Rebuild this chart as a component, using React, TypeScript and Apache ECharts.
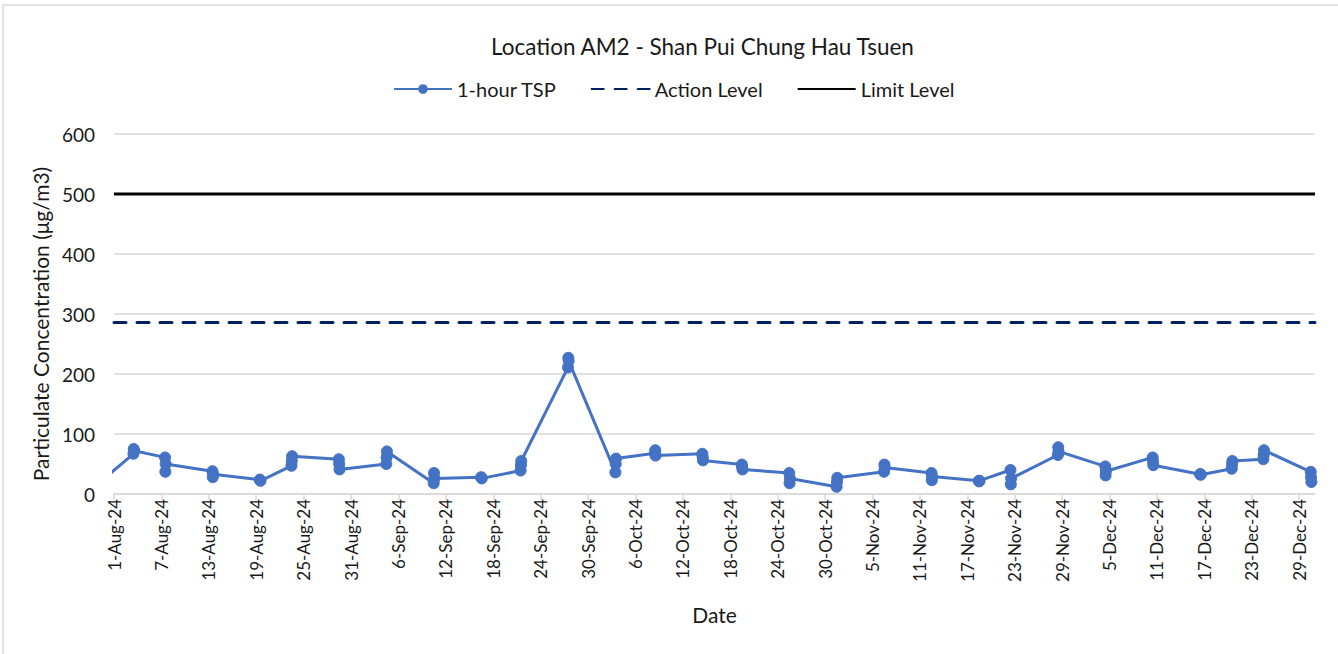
import React, { useEffect, useRef } from "react";
import * as echarts from "echarts";

const BASE_DATE = "2024-08-01";
const AXIS_MAX_DAY = 152; // 31-Dec-24
const TICK_DAYS = Array.from({ length: 26 }, (_, i) => i * 6);
const MONTHS = ["Jan", "Feb", "Mar", "Apr", "May", "Jun", "Jul", "Aug", "Sep", "Oct", "Nov", "Dec"];

const sampleDates = [
  "2024-07-29", "2024-08-03", "2024-08-07", "2024-08-13", "2024-08-19", "2024-08-23",
  "2024-08-29", "2024-09-04", "2024-09-10", "2024-09-16", "2024-09-21", "2024-09-27",
  "2024-10-03", "2024-10-08", "2024-10-14", "2024-10-19", "2024-10-25", "2024-10-31",
  "2024-11-06", "2024-11-12", "2024-11-18", "2024-11-22", "2024-11-28", "2024-12-04",
  "2024-12-10", "2024-12-16", "2024-12-20", "2024-12-24", "2024-12-30",
];
const sampleHours = ["11:00", "12:00", "13:00"];
const tspValues = [
  [20, 15, 12], [67, 75, 72], [61, 37, 50], [38, 28, 33], [24, 23, 22], [47, 55, 63],
  [58, 50, 41], [50, 61, 71], [18, 35, 26], [28, 27, 26], [39, 48, 55], [211, 227, 222],
  [36, 50, 59], [68, 73, 64], [67, 62, 56], [49, 45, 41], [35, 18, 26], [12, 20, 27],
  [37, 49, 44], [35, 23, 29], [22, 21, 22], [40, 16, 26], [65, 78, 71], [46, 31, 38],
  [61, 54, 48], [33, 33, 32], [42, 49, 55], [58, 65, 73], [37, 28, 20],
];
const actionLevel = 286;
const limitLevel = 500;

const DAY_MS = 86400000;
const baseMs = Date.parse(BASE_DATE + "T00:00:00Z");
const toDay = (d: string, h: string) => (Date.parse(d + "T" + h + ":00Z") - baseMs) / DAY_MS;
const fmtDay = (v: number) => {
  const d = new Date(baseMs + Math.round(v) * DAY_MS);
  return `${d.getUTCDate()}-${MONTHS[d.getUTCMonth()]}-${String(d.getUTCFullYear()).slice(2)}`;
};

const FONT = "Lato, 'Open Sans', sans-serif";
const TEXT = "#1a1a1a";

export default function App() {
  const ref = useRef<HTMLDivElement>(null);
  useEffect(() => {
    if (!ref.current) return;
    const chart = echarts.init(ref.current, undefined, { renderer: "svg" });
    const tspData: number[][] = [];
    sampleDates.forEach((d, i) => {
      tspValues[i].forEach((v, j) => tspData.push([toDay(d, sampleHours[j]), v]));
    });
    const hiddenSymbol = { color: "rgba(0,0,0,0)", borderWidth: 0, opacity: 0 };
    chart.setOption({
      animation: false,
      backgroundColor: "#fff",
      textStyle: { fontFamily: FONT },
      title: {
        text: "Location AM2 - Shan Pui Chung Hau Tsuen",
        left: 486,
        top: 30,
        textStyle: { fontFamily: FONT, fontSize: 22.5, fontWeight: "normal", color: TEXT },
      },
      legend: {
        top: 74,
        left: 388,
        itemWidth: 58,
        itemHeight: 12,
        itemGap: 34,
        textStyle: { fontFamily: FONT, fontSize: 20, color: TEXT },
        data: [
          { name: "1-hour TSP" },
          { name: "Action Level", itemStyle: hiddenSymbol },
          { name: "Limit Level", itemStyle: hiddenSymbol },
        ],
      },
      graphic: [
        {
          type: "rect",
          shape: { x: 3, y: 5, width: 1400, height: 700 },
          style: { fill: "none", stroke: "#D9D9D9", lineWidth: 1.5 },
          silent: true,
        },
      ],
      grid: { left: 114, right: 23, top: 134, bottom: 160 },
      xAxis: {
        type: "value",
        min: 0,
        max: AXIS_MAX_DAY,
        name: "Date",
        nameLocation: "middle",
        nameGap: 110,
        nameTextStyle: { fontFamily: FONT, fontSize: 21, color: TEXT },
        axisLine: { show: true, lineStyle: { color: "#D9D9D9", width: 1.5 } },
        axisTick: { show: true, length: 6, lineStyle: { color: "#D9D9D9", width: 1.5 }, customValues: TICK_DAYS },
        axisLabel: {
          rotate: 90,
          margin: 5,
          fontFamily: FONT,
          fontSize: 17,
          color: TEXT,
          customValues: TICK_DAYS,
          formatter: (v: number) => fmtDay(v),
        },
        splitLine: { show: false },
      },
      yAxis: {
        type: "value",
        min: 0,
        max: 600,
        interval: 100,
        name: "Particulate Concentration (μg/m3)",
        nameLocation: "middle",
        nameGap: 57,
        nameRotate: 90,
        nameTextStyle: { fontFamily: FONT, fontSize: 21, color: TEXT, padding: [0, 20, 0, 0] },
        axisLine: { show: false },
        axisTick: { show: false },
        axisLabel: { fontFamily: FONT, fontSize: 19, color: TEXT, margin: 19 },
        splitLine: { lineStyle: { color: "#D9D9D9", width: 1.5 } },
      },
      series: [
        {
          name: "1-hour TSP",
          type: "line",
          data: tspData,
          clip: true,
          symbol: "circle",
          symbolSize: 11,
          showAllSymbol: true,
          itemStyle: { color: "#4472C4", borderColor: "#4472C4" },
          lineStyle: { color: "#4472C4", width: 3 },
          z: 3,
        },
        {
          name: "Action Level",
          type: "line",
          data: [[0, actionLevel], [AXIS_MAX_DAY, actionLevel]],
          symbol: "none",
          itemStyle: { color: "#002060" },
          lineStyle: { color: "#002060", width: 3, type: [12, 11], cap: "round" },
          z: 2,
        },
        {
          name: "Limit Level",
          type: "line",
          data: [[0, limitLevel], [AXIS_MAX_DAY, limitLevel]],
          symbol: "none",
          itemStyle: { color: "#000" },
          lineStyle: { color: "#000", width: 3 },
          z: 2,
        },
      ],
    });
    return () => chart.dispose();
  }, []);
  return (
    <div
      ref={ref}
      style={{ position: "fixed", left: 0, top: 0, width: 1338, height: 654, background: "#fff" }}
    />
  );
}
